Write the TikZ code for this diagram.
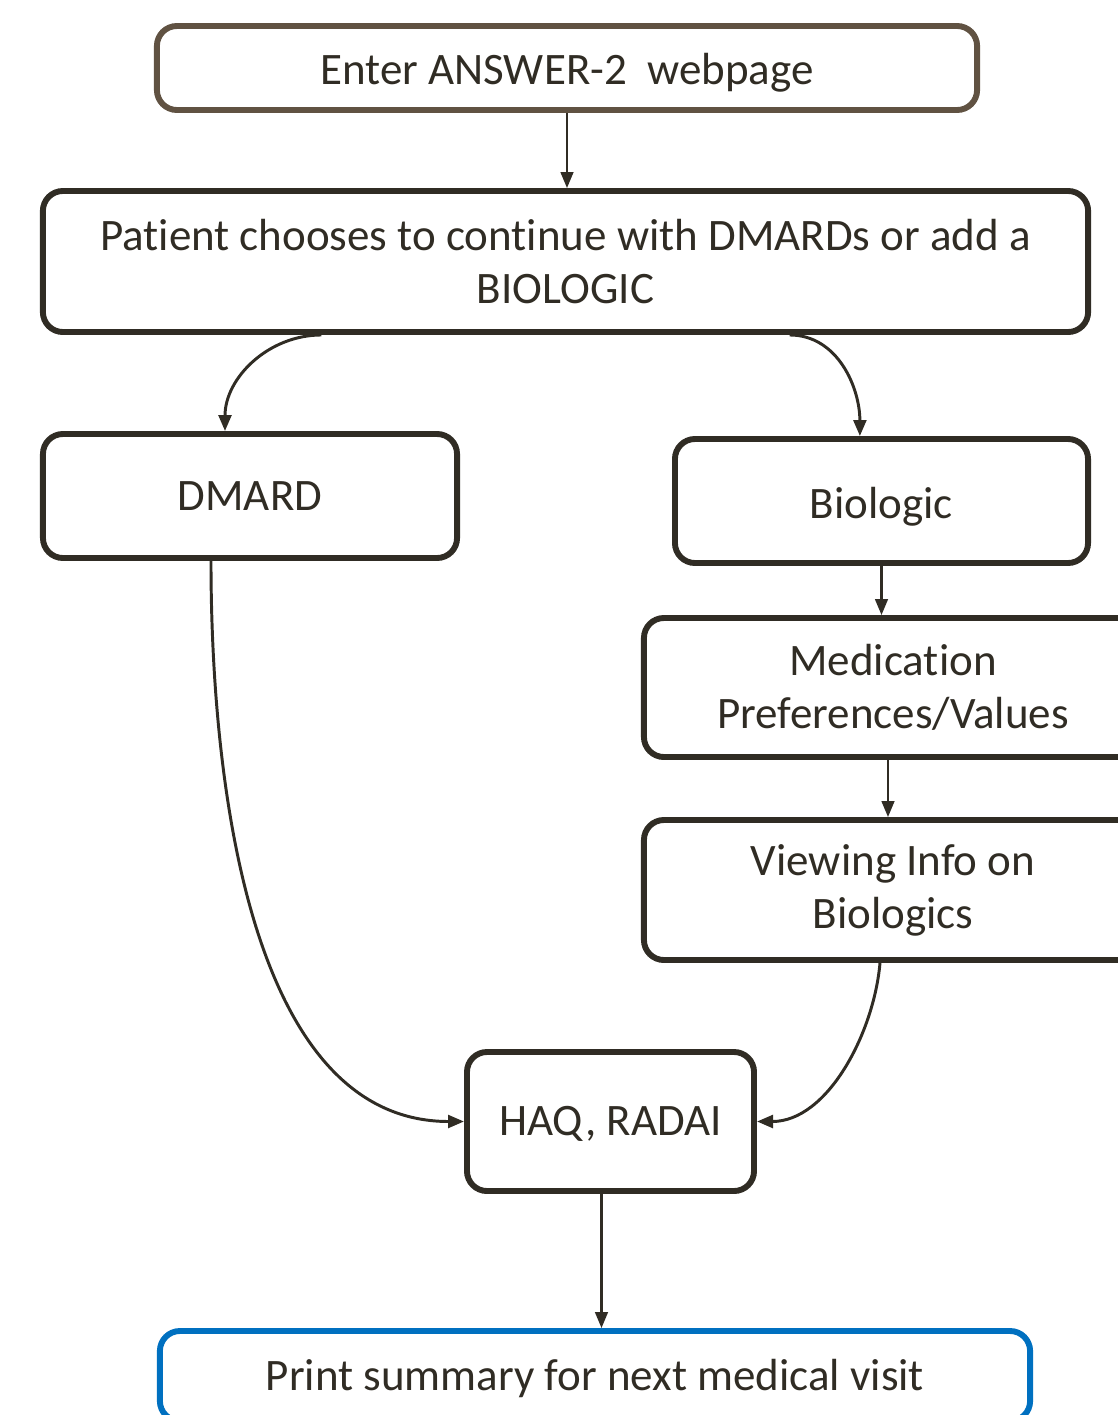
\documentclass[tikz,border=0pt]{standalone}
\usepackage{fontspec}
\setmainfont{Carlito}[Ligatures=NoCommon]
\usepackage{xcolor}
\usepackage{tikz}
\usetikzlibrary{arrows.meta,calc,positioning}
\definecolor{browntop}{RGB}{96,82,66}
\definecolor{darkline}{RGB}{48,44,36}
\definecolor{bluevisit}{RGB}{0,112,192}
\newcommand{\lowertext}[2]{\raisebox{-#1}[\height][\depth]{#2}}

\begin{document}
\begin{tikzpicture}[x=0.025cm,y=-0.025cm]
          \clip (0,0) rectangle (1118,1415);
          \tikzstyle{every node}=[text=darkline, font=\fontsize{32}{37.7}\selectfont]
          \tikzstyle{box}=[draw=darkline, line width=4.2pt, rounded corners=0.5cm, fill=white, align=center, inner sep=0pt]
          \tikzstyle{every edge}=[-{Triangle[length=0.4cm,width=0.32cm]}, draw=darkline, line width=2.1pt]

          % top of the flow
          \node[box, draw=browntop, minimum width=20.5cm, minimum height=2.1cm] (enter) at (567,68) {\lowertext{0.125cm}{Enter ANSWER-2\ \ webpage}};
          \node[box, minimum width=26.125cm, minimum height=3.525cm] (choose) at (565.5,261.5) {Patient chooses to continue with DMARDs or add a\\BIOLOGIC};

          % two branches
          \node[box, minimum width=10.35cm, minimum height=3.1cm] (dmard) at (250,496) {DMARD};
          \node[box, minimum width=10.325cm, minimum height=3.1cm] (bio) at (881.5,501) {\lowertext{0.14cm}{Biologic}};
          \node[box, minimum width=12.45cm, minimum height=3.475cm] (pref) at (893,687.5) {Medication\\Preferences/Values};
          \node[box, minimum width=12.45cm, minimum height=3.5cm] (info) at (893,890) {Viewing Info on\\Biologics};

          % bottom
          \node[box, minimum width=7.175cm, minimum height=3.475cm] (haq) at (610.5,1121.5) {\lowertext{0.07cm}{HAQ, RADAI}};
          \node[box, draw=bluevisit, minimum width=21.75cm, minimum height=2.25cm] (print) at (595,1376) {\lowertext{0.05cm}{Print summary for next medical visit}};

          % straight links
          \path (enter.south) edge[line width=1.5pt] (enter.south |- choose.north);
          \path (bio.south) edge[line width=1.5pt] (bio.south |- pref.north);
          \path ([xshift=-0.125cm]pref.south) edge[line width=1.5pt] ([xshift=-0.125cm]pref.south |- info.north);
          \path ([xshift=-0.225cm]haq.south) edge[line width=1.5pt] ([xshift=-0.225cm]haq.south |- print.north);

          % curved links
          \path ([xshift=-6.1cm]choose.south) edge[out=180, in=90] ([xshift=-0.625cm]dmard.north);
          \path ([xshift=5.6cm]choose.south) edge[out=0, in=90] ([xshift=-0.54cm]bio.north);
          \path ([xshift=-0.975cm]dmard.south) edge[out=-90, in=180, looseness=0.9] (haq.west);
          \path ([xshift=-0.325cm]info.south) edge[out=-95, in=0, looseness=0.9] (haq.east);

\end{tikzpicture}
\end{document}
